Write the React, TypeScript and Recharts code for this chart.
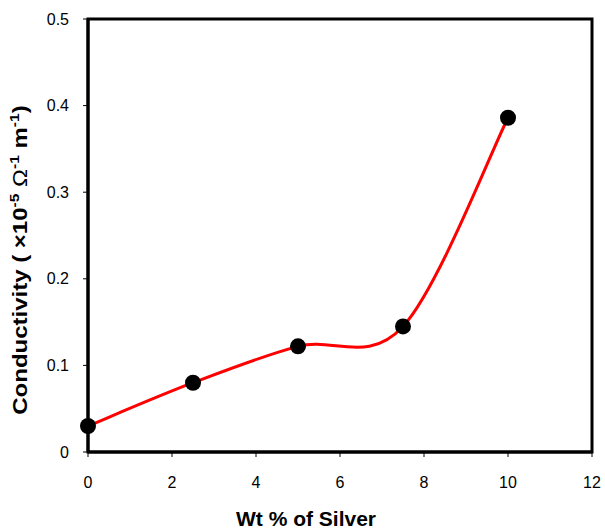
import React from 'react';
import { LineChart, Line, XAxis, YAxis, ReferenceArea } from 'recharts';

const silverWt = [0, 2.5, 5, 7.5, 10];
const conductivity = [0.03, 0.08, 0.122, 0.145, 0.386];
const xTicks = [0, 2, 4, 6, 8, 10, 12];
const yTicks = [0, 0.1, 0.2, 0.3, 0.4, 0.5];

const data = silverWt.map((x, i) => ({ x, y: conductivity[i] }));

// Catmull-Rom style smoothing (like spreadsheet smoothed lines)
const smoothCurve = (context: any) => {
  let pts: number[][] = [];
  return {
    areaStart() {},
    areaEnd() {},
    lineStart() {
      pts = [];
    },
    point(x: number, y: number) {
      pts.push([+x, +y]);
    },
    lineEnd() {
      if (!pts.length) return;
      context.moveTo(pts[0][0], pts[0][1]);
      for (let i = 0; i < pts.length - 1; i++) {
        const p0 = pts[i - 1] || pts[i];
        const p1 = pts[i];
        const p2 = pts[i + 1];
        const p3 = pts[i + 2] || pts[i + 1];
        const c1x = p1[0] + (p2[0] - p0[0]) / 6;
        const c1y = p1[1] + (p2[1] - p0[1]) / 6;
        const c2x = p2[0] - (p3[0] - p1[0]) / 6;
        const c2y = p2[1] - (p3[1] - p1[1]) / 6;
        context.bezierCurveTo(c1x, c1y, c2x, c2y, p2[0], p2[1]);
      }
    },
  };
};

const font = 'Arial, "Liberation Sans", sans-serif';

const XLabel = () => (
  <text x={306} y={526} textAnchor="middle" fontFamily={font} fontSize={21} fontWeight="bold" fill="#000">
    Wt % of Silver
  </text>
);

const YLabel = () => (
  <text
    x={0}
    y={0}
    transform="translate(27,260) rotate(-90) scale(1.2,1)"
    textAnchor="middle"
    fontFamily={font}
    fontSize={20}
    fontWeight="bold"
    fill="#000"
  >
    Conductivity ( ×10
    <tspan fontSize={13} dy={-8}>-5</tspan>
    <tspan dy={8} fontWeight="normal"> Ω</tspan>
    <tspan fontSize={13} dy={-8}>-1</tspan>
    <tspan dy={8}> m</tspan>
    <tspan fontSize={13} dy={-8}>-1</tspan>
    <tspan dy={8}>)</tspan>
  </text>
);

export default function App() {
  return (
    <div style={{ position: 'absolute', left: 0, top: 0, background: '#fff' }}>
      <LineChart width={605} height={529} data={data} margin={{ top: 19, right: 13, bottom: 27, left: 28 }}>
        <XAxis
          dataKey="x"
          type="number"
          domain={[0, 12]}
          ticks={xTicks}
          interval={0}
          axisLine={{ stroke: '#000', strokeWidth: 3 }}
          tickLine={{ stroke: '#000', strokeWidth: 1 }}
          tickSize={5}
          tickMargin={20}
          height={50}
          tick={{ fill: '#000', fontSize: 16, fontFamily: font }}
          label={<XLabel />}
        />
        <YAxis
          dataKey="y"
          type="number"
          domain={[0, 0.5]}
          ticks={yTicks}
          interval={0}
          tickFormatter={(v: number) => (v === 0 ? '0' : v.toFixed(1))}
          axisLine={{ stroke: '#000', strokeWidth: 3 }}
          tickLine={{ stroke: '#000', strokeWidth: 1 }}
          tickSize={5}
          tickMargin={14}
          width={60}
          tick={{ fill: '#000', fontSize: 16, fontFamily: font }}
          label={<YLabel />}
        />
        <ReferenceArea x1={0} x2={12} y1={0} y2={0.5} fill="none" stroke="#000" strokeWidth={3} ifOverflow="visible" />
        <Line
          dataKey="y"
          type={smoothCurve as any}
          stroke="#ff0000"
          strokeWidth={3}
          dot={{ r: 8, fill: '#000', stroke: '#000', strokeWidth: 0 }}
          activeDot={false}
          isAnimationActive={false}
        />
      </LineChart>
    </div>
  );
}
